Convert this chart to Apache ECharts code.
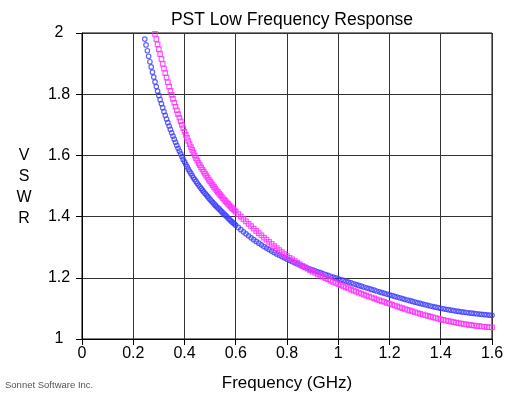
<!DOCTYPE html>
<html>
<head>
<meta charset="utf-8">
<script src="https://cdn.jsdelivr.net/npm/echarts@6/dist/echarts.min.js"></script>
<style>
  html, body { margin: 0; padding: 0; background: #fff; }
  #chart { width: 505px; height: 396px; }
</style>
</head>
<body>
<div id="chart"></div>
<script>
// frequency sweep (GHz)
const freq = [
  0.24, 0.245, 0.25, 0.255, 0.26, 0.265, 0.27, 0.275, 0.28, 0.285,
  0.29, 0.295, 0.3, 0.305, 0.31, 0.315, 0.32, 0.325, 0.33, 0.335,
  0.34, 0.345, 0.35, 0.355, 0.36, 0.365, 0.37, 0.375, 0.38, 0.385,
  0.39, 0.395, 0.4, 0.405, 0.41, 0.415, 0.42, 0.425, 0.43, 0.435,
  0.44, 0.445, 0.45, 0.455, 0.46, 0.465, 0.47, 0.475, 0.48, 0.485,
  0.49, 0.495, 0.5, 0.505, 0.51, 0.515, 0.52, 0.525, 0.53, 0.535,
  0.54, 0.545, 0.55, 0.555, 0.56, 0.565, 0.57, 0.575, 0.58, 0.585,
  0.59, 0.595, 0.6,
  0.61, 0.62, 0.63, 0.64, 0.65, 0.66, 0.67, 0.68, 0.69, 0.7,
  0.71, 0.72, 0.73, 0.74, 0.75, 0.76, 0.77, 0.78, 0.79, 0.8,
  0.81, 0.82, 0.83, 0.84, 0.85, 0.86, 0.87, 0.88, 0.89, 0.9,
  0.91, 0.92, 0.93, 0.94, 0.95, 0.96, 0.97, 0.98, 0.99, 1.0,
  1.01, 1.02, 1.03, 1.04, 1.05, 1.06, 1.07, 1.08, 1.09, 1.1,
  1.11, 1.12, 1.13, 1.14, 1.15, 1.16, 1.17, 1.18, 1.19, 1.2,
  1.21, 1.22, 1.23, 1.24, 1.25, 1.26, 1.27, 1.28, 1.29, 1.3,
  1.31, 1.32, 1.33, 1.34, 1.35, 1.36, 1.37, 1.38, 1.39, 1.4,
  1.41, 1.42, 1.43, 1.44, 1.45, 1.46, 1.47, 1.48, 1.49, 1.5,
  1.51, 1.52, 1.53, 1.54, 1.55, 1.56, 1.57, 1.58, 1.59, 1.6
]

// blue circles
const vswrBlue = [
  2.002, 1.98, 1.961, 1.942, 1.924, 1.906, 1.889, 1.872, 1.856, 1.84,
  1.825, 1.81, 1.796, 1.782, 1.769, 1.756, 1.743, 1.731, 1.719, 1.707,
  1.696, 1.685, 1.674, 1.663, 1.653, 1.643, 1.633, 1.623, 1.614, 1.605,
  1.596, 1.587, 1.579, 1.571, 1.563, 1.555, 1.548, 1.541, 1.534, 1.527,
  1.521, 1.515, 1.509, 1.503, 1.4975, 1.492, 1.4865, 1.481, 1.476, 1.471,
  1.466, 1.461, 1.456, 1.451, 1.4465, 1.442, 1.4375, 1.433, 1.429, 1.425,
  1.4205, 1.416, 1.412, 1.408, 1.404, 1.4, 1.3955, 1.391, 1.3873, 1.383,
  1.3795, 1.376, 1.372,
  1.3645, 1.3573, 1.3503, 1.3436, 1.3371, 1.3308, 1.3247, 1.3188, 1.3131, 1.3076,
  1.3023, 1.2972, 1.2922, 1.2874, 1.2827, 1.2781, 1.2737, 1.2694, 1.2652, 1.2611,
  1.2571, 1.2532, 1.2494, 1.2457, 1.2421, 1.2386, 1.2352, 1.2319, 1.2287, 1.2256,
  1.2226, 1.2196, 1.2166, 1.2137, 1.2108, 1.2079, 1.2051, 1.2023, 1.1995, 1.1967,
  1.194, 1.1913, 1.1886, 1.1859, 1.1832, 1.1805, 1.1778, 1.1751, 1.1725, 1.1699,
  1.1673, 1.1647, 1.1621, 1.1595, 1.1569, 1.1543, 1.1518, 1.1493, 1.1468, 1.1443,
  1.1418, 1.1393, 1.1369, 1.1345, 1.1321, 1.1297, 1.1274, 1.1251, 1.1228, 1.1205,
  1.1183, 1.1161, 1.114, 1.1119, 1.1099, 1.1079, 1.106, 1.1041, 1.1023, 1.1005,
  1.0988, 1.0972, 1.0957, 1.0942, 1.0928, 1.0914, 1.0901, 1.0889, 1.0877, 1.0866,
  1.0855, 1.0845, 1.0835, 1.0825, 1.0816, 1.0807, 1.0798, 1.079, 1.0782, 1.0774
]

// magenta squares (off the top of the chart below 0.28 GHz)
const vswrMagenta = [
  null, null, null, null, null, null, null, null, 2.015, 1.997,
  1.98, 1.963, 1.947, 1.931, 1.915, 1.899, 1.884, 1.869, 1.854, 1.839,
  1.825, 1.811, 1.798, 1.785, 1.772, 1.759, 1.747, 1.735, 1.723, 1.711,
  1.7, 1.689, 1.678, 1.667, 1.657, 1.647, 1.637, 1.627, 1.618, 1.609,
  1.6, 1.591, 1.583, 1.575, 1.568, 1.561, 1.554, 1.547, 1.5405, 1.534,
  1.5275, 1.521, 1.515, 1.509, 1.503, 1.497, 1.4915, 1.486, 1.4805, 1.475,
  1.47, 1.465, 1.46, 1.455, 1.4505, 1.446, 1.4415, 1.437, 1.4327, 1.428,
  1.4242, 1.42, 1.416,
  1.408, 1.4, 1.392, 1.3841, 1.3763, 1.3686, 1.361, 1.3535, 1.3461, 1.3388,
  1.3316, 1.3245, 1.3175, 1.3106, 1.3038, 1.2971, 1.2905, 1.284, 1.2776, 1.2713,
  1.2655, 1.2599, 1.2545, 1.2493, 1.2442, 1.2392, 1.2343, 1.2295, 1.2248, 1.2202,
  1.2157, 1.2113, 1.207, 1.2028, 1.1987, 1.1947, 1.1908, 1.187, 1.1832, 1.1795,
  1.1758, 1.1722, 1.1686, 1.1651, 1.1616, 1.1582, 1.1548, 1.1515, 1.1482, 1.145,
  1.1418, 1.1387, 1.1356, 1.1326, 1.1296, 1.1267, 1.1238, 1.121, 1.1182, 1.1154,
  1.1124, 1.1094, 1.1065, 1.1036, 1.1008, 1.098, 1.0953, 1.0926, 1.09, 1.0874,
  1.0849, 1.0824, 1.08, 1.0776, 1.0753, 1.073, 1.0708, 1.0686, 1.0665, 1.0644,
  1.0624, 1.0605, 1.0587, 1.0569, 1.0552, 1.0536, 1.052, 1.0505, 1.0491, 1.0477,
  1.0464, 1.0452, 1.044, 1.0429, 1.0419, 1.0409, 1.04, 1.0392, 1.0384, 1.0377
]

const xTickLabels = ['0', '0.2', '0.4', '0.6', '0.8', '1', '1.2', '1.4', '1.6']
const yTickLabels = ['1', '1.2', '1.4', '1.6', '1.8', '2']

const FONT = '"Liberation Sans", Arial, sans-serif'

function pairs(values) {
  const out = []
  freq.forEach((f, i) => {
    if (values[i] != null) out.push([f, values[i]])
  })
  return out
}

const myChart = echarts.init(document.getElementById('chart'), null, { renderer: 'canvas' })
myChart.setOption({
  animation: false,
  backgroundColor: '#fff',
  textStyle: { fontFamily: FONT },
  title: {
    text: 'PST Low Frequency Response',
    left: 287,
    top: 6,
    textAlign: 'center',
    textStyle: { fontFamily: FONT, fontSize: 17.5, fontWeight: 'normal', color: '#000' },
  },
  grid: {
    left: 82, right: 13, top: 33, bottom: 57,
    containLabel: false,
    outerBoundsMode: 'none',
    show: true,
    borderColor: '#000',
    borderWidth: 1,
  },
  xAxis: {
    type: 'value',
    min: 0, max: 1.6, interval: 0.2,
    name: 'Frequency (GHz)',
    nameLocation: 'middle',
    nameGap: 36,
    nameTextStyle: { fontFamily: FONT, fontSize: 17, color: '#000' },
    axisLine: { show: true, onZero: false, lineStyle: { color: '#000', width: 1 } },
    axisTick: { show: true, length: 6, lineStyle: { color: '#000' } },
    axisLabel: {
      fontFamily: FONT, fontSize: 16, color: '#000', margin: 7,
      formatter: v => xTickLabels[Math.round(v / 0.2)],
    },
    splitLine: { show: true, lineStyle: { color: '#333', width: 1 } },
  },
  yAxis: {
    type: 'value',
    min: 1, max: 2, interval: 0.2,
    axisLine: { show: true, onZero: false, lineStyle: { color: '#000', width: 1 } },
    axisTick: { show: true, length: 6, lineStyle: { color: '#000' } },
    axisLabel: {
      fontFamily: FONT, fontSize: 16, color: '#000', margin: 23, align: 'center',
      formatter: v => yTickLabels[Math.round((v - 1) / 0.2)],
    },
    splitLine: { show: true, lineStyle: { color: '#333', width: 1 } },
  },
  graphic: [
    {
      type: 'text',
      left: 5, top: 380,
      style: { text: 'Sonnet Software Inc.', fontFamily: FONT, fontSize: 9.5, fill: '#555' },
    },
    {
      type: 'text',
      x: 24, y: 145,
      style: {
        text: 'V\nS\nW\nR',
        fontFamily: FONT, fontSize: 16, lineHeight: 21,
        align: 'center', verticalAlign: 'top', fill: '#000',
      },
    },
  ],
  series: [
    {
      type: 'scatter',
      name: 'blue',
      symbol: 'circle',
      symbolSize: 4.5,
      clip: true,
      itemStyle: { color: 'rgba(0,0,0,0)', borderColor: '#3c3cff', borderWidth: 1.2 },
      data: pairs(vswrBlue),
    },
    {
      type: 'scatter',
      name: 'magenta',
      symbol: 'rect',
      symbolSize: 4.5,
      clip: true,
      itemStyle: { color: 'rgba(0,0,0,0)', borderColor: '#ff2cff', borderWidth: 1.2 },
      data: pairs(vswrMagenta),
    },
  ],
})
</script>
</body>
</html>
